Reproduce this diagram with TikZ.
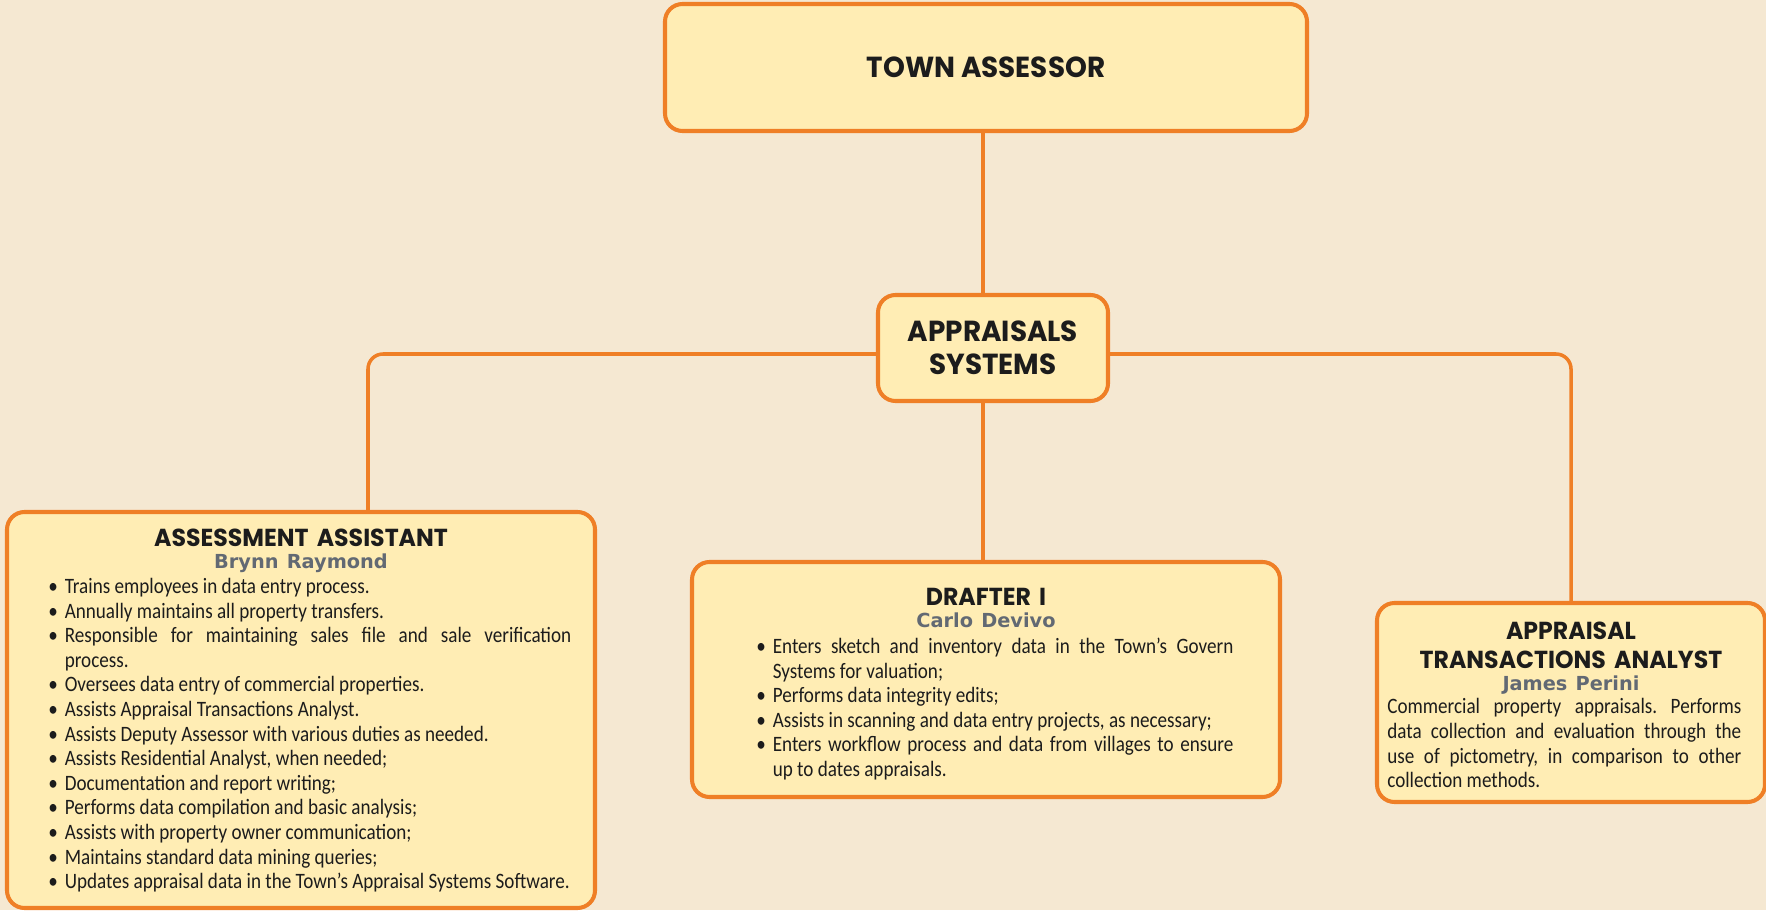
\documentclass[tikz,border=0pt]{standalone}
\usepackage{fontspec}
\usepackage{tikz}
\usetikzlibrary{calc}
\setmainfont{Carlito}
\newfontfamily\dutyfamily{Carlito}[FakeStretch=0.87]
\newfontfamily\headfamily{Poppins}[FakeStretch=0.96]
\newfontfamily\personfamily{DejaVu Sans}
\definecolor{beige}{HTML}{F5E8D2}
\definecolor{paleyellow}{HTML}{FFEDB4}
\definecolor{orangeline}{HTML}{EF7F26}
\definecolor{slate}{HTML}{626973}
\definecolor{ink}{HTML}{1C1C1C}
\frenchspacing
\newcommand{\dutyfnt}{\dutyfamily\fontsize{12.5}{14}\selectfont\hyphenpenalty=10000\exhyphenpenalty=10000}
\newcommand{\ttlfnt}{\headfamily\bfseries\fontsize{14}{16.5}\selectfont}
\newcommand{\bigttlfnt}{\headfamily\bfseries\fontsize{16.5}{18.8}\selectfont}
\newcommand{\personfnt}{\personfamily\bfseries\fontsize{11}{12.6}\selectfont\color{slate}}
\newcommand{\duty}[1]{\noindent\hangindent=0.33cm\hangafter=1\makebox[0.33cm][l]{\textbullet}#1\par}

\begin{document}
\begin{tikzpicture}[
  box/.style={draw=orangeline,fill=paleyellow,line width=2.3pt,rounded corners=0.35cm},
  link/.style={draw=orangeline,line width=2pt,rounded corners=0.3cm},
  head/.style={inner sep=0pt,anchor=base,align=center,text=ink,font=\ttlfnt},
  duties/.style={inner sep=0pt,anchor=base west,align=justify,text=ink,font=\dutyfnt}]
\fill[beige] (0,0) rectangle (35.32,18.2);
\useasboundingbox (0,0) rectangle (35.32,18.2);

% boxes
\node[box,minimum width=12.84cm,minimum height=2.54cm,text=ink,font=\bigttlfnt] (town) at (19.72,16.85) {TOWN ASSESSOR};
\node[box,minimum width=4.6cm,minimum height=2.12cm,align=center,text=ink,font=\bigttlfnt] (appr) at (19.86,11.24) {APPRAISALS\\SYSTEMS};
\node[box,minimum width=11.76cm,minimum height=7.92cm] (assist) at (6.02,4.0) {};
\node[box,minimum width=11.76cm,minimum height=4.7cm] (drafter) at (19.72,4.61) {};
\node[box,minimum width=7.76cm,minimum height=3.98cm] (analyst) at (31.42,4.15) {};

% connectors
\coordinate (spine) at ([xshift=-0.06cm]town.south);
\draw[link] (spine) -- (spine |- appr.north);
\draw[link] (appr.south -| spine) -- (drafter.north -| spine);
\draw[link] ([yshift=-0.12cm]appr.west) -| ([xshift=1.34cm]assist.north);
\draw[link] ([yshift=-0.12cm]appr.east) -| (analyst.north);

% assessment assistant
\node[head,text width=11cm] (assisthead) at ($(assist.north)+(0,-0.73)$) {ASSESSMENT ASSISTANT\par{\personfnt Brynn Raymond\par}};
\node[duties,text width=10.46cm] (assistlist) at ($(assist.north west)+(0.86,-1.67)$) {%
\duty{Trains employees in data entry process.}
\duty{Annually maintains all property transfers.}
\duty{Responsible for maintaining sales file and sale verification\linebreak process.}
\duty{Oversees data entry of commercial properties.}
\duty{Assists Appraisal Transactions Analyst.}
\duty{Assists Deputy Assessor with various duties as needed.}
\duty{Assists Residential Analyst, when needed;}
\duty{Documentation and report writing;}
\duty{Performs data compilation and basic analysis;}
\duty{Assists with property owner communication;}
\duty{Maintains standard data mining queries;}
\duty{Updates appraisal data in the Town’s Appraisal Systems Software.}};

% drafter
\node[head,text width=11cm] (drafterhead) at ($(drafter.north)+(0,-0.91)$) {DRAFTER I\par{\personfnt Carlo Devivo\par}};
\node[duties,text width=9.54cm] (drafterlist) at ($(drafter.north west)+(1.32,-1.87)$) {%
\duty{Enters sketch and inventory data in the Town’s Govern\linebreak Systems for valuation;}
\duty{Performs data integrity edits;}
\duty{Assists in scanning and data entry projects, as necessary;}
\duty{Enters workflow process and data from villages to ensure\linebreak up to dates appraisals.}};

% analyst
\node[head,text width=7.4cm] (analysthead) at ($(analyst.north)+(0,-0.77)$) {APPRAISAL\\TRANSACTIONS ANALYST\par{\personfnt James Perini\par}};
\node[duties,text width=7.08cm] (analystlist) at ($(analyst.north west)+(0.24,-2.26)$) {%
Commercial property appraisals. Performs\linebreak data collection and evaluation through the\linebreak use of pictometry, in comparison to other\linebreak collection methods.\par};
\end{tikzpicture}
\end{document}
